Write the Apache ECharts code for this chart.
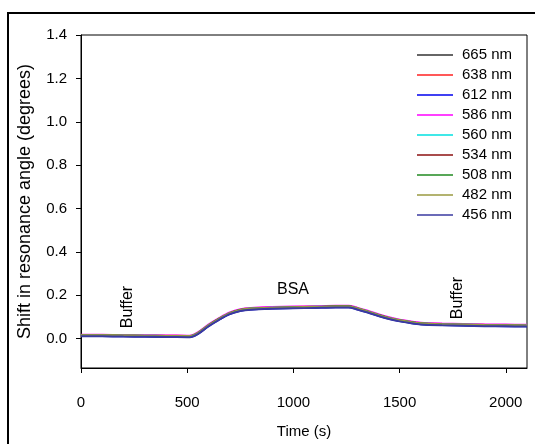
<!DOCTYPE html>
<html>
<head>
<meta charset="utf-8">
<script src="https://cdn.jsdelivr.net/npm/echarts@6/dist/echarts.min.js"></script>
<style>
  html, body { margin: 0; padding: 0; background: #fff; }
  #chart { width: 535px; height: 444px; }
</style>
</head>
<body>
<div id="chart"></div>
<script>
'use strict'

// time points (s)
var times = [0, 100, 200, 300, 400, 500, 520, 550, 600, 650, 700, 750, 800, 900, 1000,
    1100, 1200, 1260, 1300, 1350, 1400, 1450, 1500, 1550, 1600, 1700, 1800, 1900, 2000, 2100];

var wavelengths = ['665 nm', '638 nm', '612 nm', '586 nm', '560 nm', '534 nm', '508 nm', '482 nm', '456 nm'];
var lineColors = ['#333333', '#ff2020', '#0000ee', '#ff00ff', '#00e0e0', '#8c1010', '#208a20', '#9a9a40', '#3a3aa0'];

// shift in resonance angle (degrees) for each wavelength
var s665 = [0.014, 0.014, 0.013, 0.012, 0.011, 0.010, 0.011, 0.024, 0.060, 0.090, 0.116, 0.131, 0.137, 0.141, 0.143, 0.145, 0.147, 0.147, 0.138, 0.124, 0.108, 0.094, 0.083, 0.075, 0.069, 0.065, 0.063, 0.061, 0.060, 0.059];
var s638 = [0.017, 0.017, 0.016, 0.015, 0.014, 0.013, 0.014, 0.027, 0.063, 0.093, 0.119, 0.134, 0.140, 0.144, 0.146, 0.148, 0.150, 0.150, 0.141, 0.127, 0.111, 0.097, 0.086, 0.078, 0.072, 0.068, 0.066, 0.064, 0.063, 0.062];
var s612 = [0.012, 0.012, 0.011, 0.010, 0.009, 0.008, 0.009, 0.022, 0.058, 0.088, 0.114, 0.129, 0.135, 0.139, 0.141, 0.143, 0.145, 0.145, 0.136, 0.122, 0.106, 0.092, 0.081, 0.073, 0.067, 0.063, 0.061, 0.059, 0.058, 0.057];
var s586 = [0.018, 0.018, 0.017, 0.016, 0.015, 0.014, 0.015, 0.029, 0.065, 0.095, 0.121, 0.136, 0.142, 0.146, 0.148, 0.150, 0.152, 0.152, 0.143, 0.129, 0.113, 0.099, 0.088, 0.080, 0.074, 0.070, 0.068, 0.066, 0.065, 0.064];
var s560 = [0.016, 0.016, 0.015, 0.014, 0.013, 0.012, 0.013, 0.026, 0.062, 0.092, 0.118, 0.133, 0.139, 0.143, 0.145, 0.147, 0.149, 0.149, 0.140, 0.126, 0.110, 0.096, 0.085, 0.077, 0.071, 0.067, 0.065, 0.063, 0.062, 0.061];
var s534 = [0.015, 0.015, 0.014, 0.013, 0.012, 0.011, 0.012, 0.025, 0.061, 0.091, 0.117, 0.132, 0.138, 0.142, 0.144, 0.146, 0.148, 0.148, 0.139, 0.125, 0.109, 0.095, 0.084, 0.076, 0.070, 0.066, 0.064, 0.062, 0.061, 0.060];
var s508 = [0.014, 0.014, 0.013, 0.012, 0.011, 0.011, 0.012, 0.025, 0.061, 0.091, 0.117, 0.132, 0.138, 0.142, 0.144, 0.146, 0.148, 0.148, 0.139, 0.125, 0.109, 0.095, 0.084, 0.076, 0.070, 0.066, 0.063, 0.061, 0.060, 0.059];
var s482 = [0.016, 0.016, 0.015, 0.014, 0.013, 0.012, 0.013, 0.026, 0.062, 0.092, 0.118, 0.133, 0.139, 0.143, 0.145, 0.147, 0.149, 0.149, 0.140, 0.126, 0.110, 0.096, 0.085, 0.077, 0.071, 0.067, 0.065, 0.063, 0.062, 0.061];
var s456 = [0.011, 0.011, 0.010, 0.009, 0.008, 0.007, 0.008, 0.021, 0.057, 0.087, 0.113, 0.128, 0.134, 0.138, 0.140, 0.142, 0.144, 0.144, 0.135, 0.121, 0.105, 0.091, 0.080, 0.072, 0.066, 0.062, 0.060, 0.058, 0.057, 0.056];

var shifts = [s665, s638, s612, s586, s560, s534, s508, s482, s456];

var xTicks = [0, 500, 1000, 1500, 2000];
var yTicks = [0, 0.2, 0.4, 0.6, 0.8, 1.0, 1.2, 1.4];

var font = 'Liberation Sans, Arial, sans-serif';

var series = [];
for (var i = 0; i < wavelengths.length; i++) {
    var pts = [];
    for (var j = 0; j < times.length; j++) {
        pts.push([times[j], shifts[i][j]]);
    }
    series.push({
        name: wavelengths[i],
        type: 'line',
        data: pts,
        smooth: 0.3,
        symbol: 'none',
        color: lineColors[i],
        lineStyle: { width: 2 }
    });
}

var myChart = echarts.init(document.getElementById('chart'));

var option = {
    backgroundColor: '#fff',
    animation: false,
    textStyle: { fontFamily: font },
    grid: {
        left: 81, right: 8, top: 35, bottom: 73,
        show: true, borderColor: '#000', borderWidth: 1
    },
    legend: {
        orient: 'vertical',
        left: 412,
        top: 42,
        icon: 'rect',
        itemWidth: 36,
        itemHeight: 1.5,
        itemGap: 4,
        data: wavelengths,
        textStyle: { fontFamily: font, fontSize: 15, color: '#000', lineHeight: 16, padding: [0, 0, 0, 4] }
    },
    xAxis: {
        type: 'value',
        min: 0,
        max: 2100,
        name: 'Time (s)',
        nameLocation: 'middle',
        nameGap: 56,
        nameTextStyle: { fontFamily: font, fontSize: 15, color: '#000' },
        axisLine: { onZero: false, lineStyle: { color: '#000' } },
        axisTick: { show: true, length: 5, customValues: xTicks, lineStyle: { color: '#000' } },
        axisLabel: {
            customValues: xTicks, fontSize: 15, color: '#000', margin: 27, fontFamily: font,
            formatter: function (v) { return String(v); }
        },
        splitLine: { show: false }
    },
    yAxis: {
        type: 'value',
        min: -0.135,
        max: 1.4,
        name: 'Shift in resonance angle (degrees)',
        nameLocation: 'middle',
        nameGap: 47,
        nameTextStyle: { fontFamily: font, fontSize: 18, color: '#000' },
        axisLine: { onZero: false, lineStyle: { color: '#000' } },
        axisTick: { show: true, length: 5, customValues: yTicks, lineStyle: { color: '#000' } },
        axisLabel: {
            customValues: yTicks, fontSize: 15, color: '#000', margin: 14, fontFamily: font,
            formatter: function (v) { return v.toFixed(1); }
        },
        splitLine: { show: false }
    },
    graphic: [
        { type: 'rect', shape: { x: 8, y: 13, width: 560, height: 460 }, style: { fill: 'none', stroke: '#000', lineWidth: 2 }, silent: true },
        { type: 'text', x: 128, y: 307, rotation: Math.PI / 2, style: { text: 'Buffer', font: '16px ' + font, fill: '#000', align: 'center', verticalAlign: 'middle' } },
        { type: 'text', x: 293, y: 290, style: { text: 'BSA', font: '16px ' + font, fill: '#000', align: 'center', verticalAlign: 'middle' } },
        { type: 'text', x: 458, y: 298, rotation: Math.PI / 2, style: { text: 'Buffer', font: '16px ' + font, fill: '#000', align: 'center', verticalAlign: 'middle' } }
    ],
    series: series
};

myChart.setOption(option);
</script>
</body>
</html>
